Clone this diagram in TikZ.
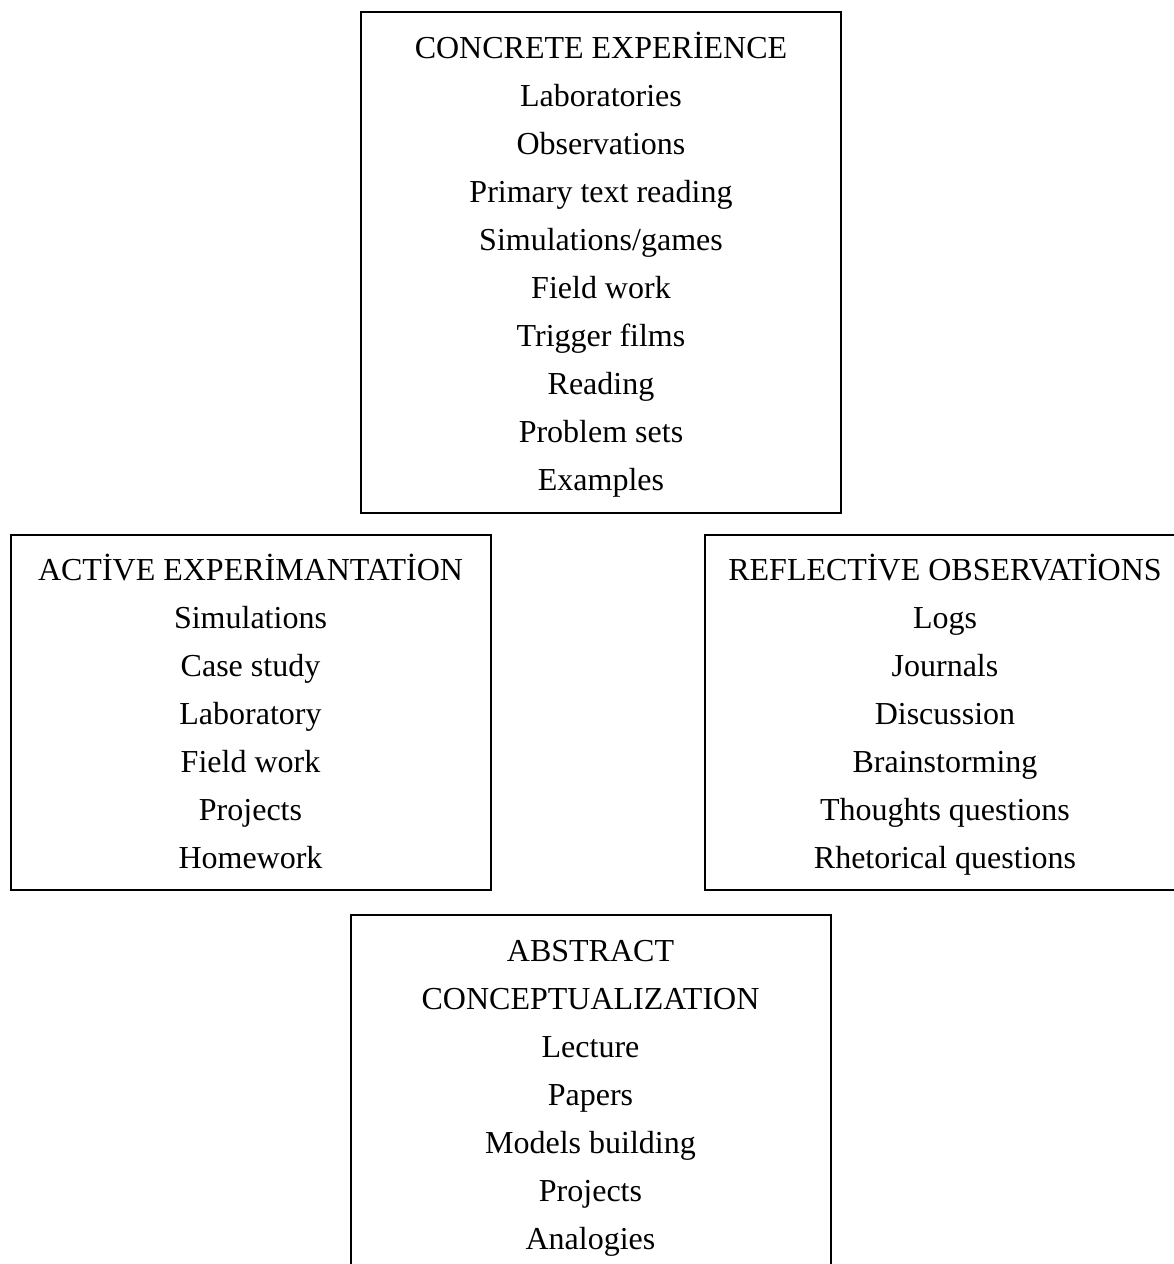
\documentclass[tikz,border=0pt]{standalone}
\usepackage{fontspec}
\setmainfont{Liberation Serif}
\usepackage{tikz}

\begin{document}
\begin{tikzpicture}[x=0.75pt,y=0.75pt,yscale=-1,xscale=1,
    stagebox/.style={draw, line width=1.5pt, align=center, inner sep=0pt,
        minimum width=360pt, font=\fontsize{24}{36}\selectfont, text depth=1.8pt}]

    \useasboundingbox (0,0) rectangle (1174,1264);

    \node [stagebox, minimum height=375.75pt] (concrete) at (601,262)
        {CONCRETE EXPERİENCE\\ Laboratories\\ Observations\\ Primary text reading\\ Simulations/games\\ Field work\\ Trigger films\\ Reading\\ Problem sets\\ Examples};
    \node [stagebox, minimum height=266.25pt] (active) at (250.5,712.5)
        {ACTİVE EXPERİMANTATİON\\ Simulations\\ Case study\\ Laboratory\\ Field work\\ Projects\\ Homework};
    \node [stagebox, minimum height=266.25pt] (reflective) at (945,712.5)
        {REFLECTİVE OBSERVATİONS\\ Logs\\ Journals\\ Discussion\\ Brainstorming\\ Thoughts questions\\ Rhetorical questions};
    \node [stagebox, minimum height=270pt, text depth=-1.2pt] (abstract) at (590.5,1095)
        {ABSTRACT\\ CONCEPTUALIZATION\\ Lecture\\ Papers\\ Models building\\ Projects\\ Analogies};

\end{tikzpicture}
\end{document}
